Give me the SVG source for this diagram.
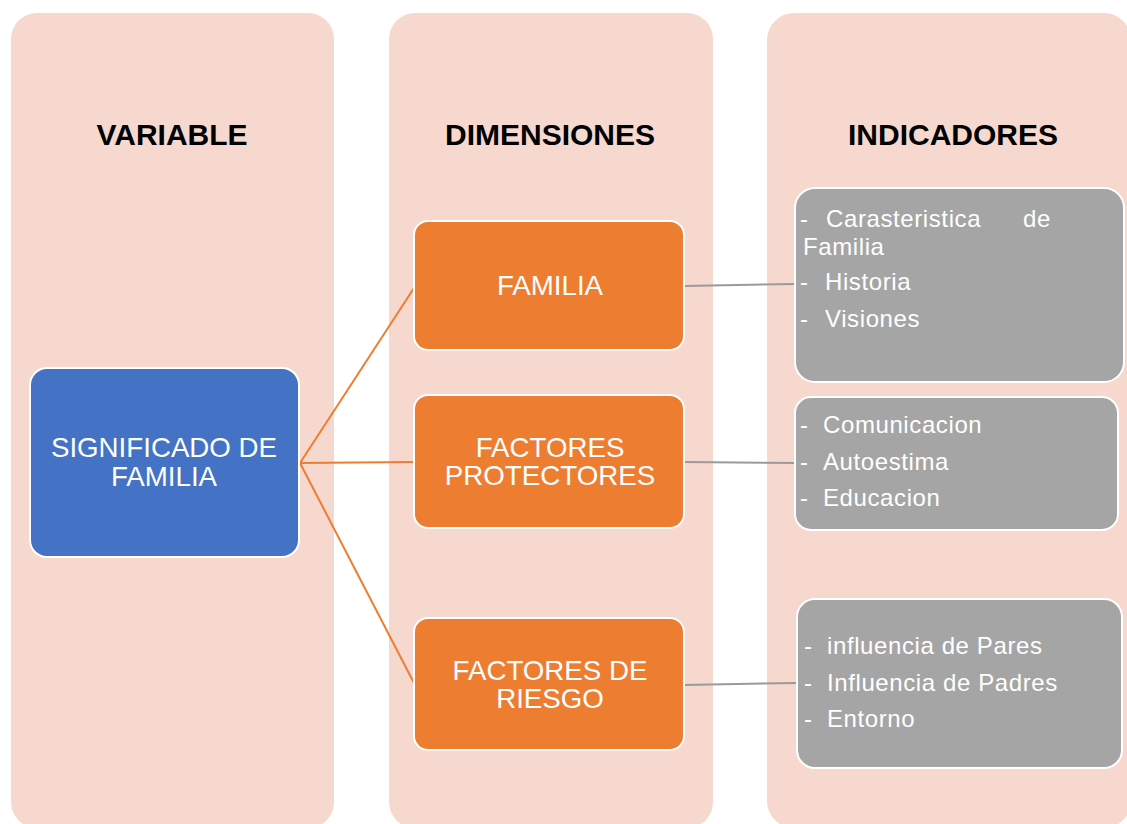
<svg xmlns="http://www.w3.org/2000/svg" width="1127" height="824" viewBox="0 0 1127 824">
<style>
.col{fill:#f7d8ce}
.head{font-family:"Liberation Sans",Arial,sans-serif;font-weight:bold;font-size:30px;fill:#000;text-anchor:middle}
.blue{fill:#4472c4;stroke:#fff;stroke-width:2}
.orange{fill:#ed7d31;stroke:#fff;stroke-width:2}
.gray{fill:#a5a5a5;stroke:#fff;stroke-width:2}
.lbl{font-family:"Liberation Sans",Arial,sans-serif;font-size:27.7px;fill:#fff;text-anchor:middle}
.ind{font-family:"Liberation Sans",Arial,sans-serif;font-size:24px;fill:#fff;letter-spacing:0.6px}
.c-or{stroke:#ed7d31;stroke-width:2;fill:none}
.c-gr{stroke:#9a9a9a;stroke-width:2;fill:none}
</style>
<rect width="1127" height="824" fill="#fff"/>
<g id="columns">
<rect class="col" x="11" y="13" width="323" height="815" rx="26"/>
<rect class="col" x="389" y="13" width="324" height="815" rx="26"/>
<rect class="col" x="767" y="13" width="364" height="815" rx="27"/>
<text class="head" x="172" y="145">VARIABLE</text>
<text class="head" x="550" y="145">DIMENSIONES</text>
<text class="head" x="953" y="145">INDICADORES</text>
</g>
<g id="connectors">
<line class="c-or" x1="300" y1="463" x2="414" y2="288"/>
<line class="c-or" x1="300" y1="463" x2="414" y2="462"/>
<line class="c-or" x1="300" y1="463" x2="414" y2="683"/>
<line class="c-gr" x1="684" y1="286" x2="795" y2="284"/>
<line class="c-gr" x1="684" y1="462" x2="795" y2="463"/>
<line class="c-gr" x1="684" y1="685" x2="797" y2="683"/>
</g>
<g id="significado">
<rect class="blue" x="30" y="368" width="269" height="189" rx="17"/>
<text class="lbl" x="164" y="457">SIGNIFICADO DE</text>
<text class="lbl" x="164" y="486">FAMILIA</text>
</g>
<g id="familia">
<rect class="orange" x="414" y="221" width="270" height="129" rx="14"/>
<text class="lbl" x="550" y="295">FAMILIA</text>
</g>
<g id="protectores">
<rect class="orange" x="414" y="395" width="270" height="133" rx="14"/>
<text class="lbl" x="550" y="457">FACTORES</text>
<text class="lbl" x="550" y="485">PROTECTORES</text>
</g>
<g id="riesgo">
<rect class="orange" x="414" y="618" width="270" height="132" rx="14"/>
<text class="lbl" x="550" y="680">FACTORES DE</text>
<text class="lbl" x="550" y="708">RIESGO</text>
</g>
<g id="ind-familia">
<rect class="gray" x="795" y="188" width="329" height="194" rx="20"/>
<text class="ind" x="800" y="227">-</text>
<text class="ind" x="826" y="227">Carasteristica</text>
<text class="ind" x="1023" y="227">de</text>
<text class="ind" x="803" y="255">Familia</text>
<text class="ind" x="800" y="290">-</text>
<text class="ind" x="825" y="290">Historia</text>
<text class="ind" x="800" y="327">-</text>
<text class="ind" x="825" y="327">Visiones</text>
</g>
<g id="ind-protectores">
<rect class="gray" x="795" y="397" width="323" height="133" rx="16"/>
<text class="ind" x="800" y="433">-</text>
<text class="ind" x="823" y="433">Comunicacion</text>
<text class="ind" x="800" y="470">-</text>
<text class="ind" x="823" y="470">Autoestima</text>
<text class="ind" x="800" y="506">-</text>
<text class="ind" x="823" y="506">Educacion</text>
</g>
<g id="ind-riesgo">
<rect class="gray" x="797" y="599" width="325" height="169" rx="18"/>
<text class="ind" x="804" y="654">-</text>
<text class="ind" x="827" y="654">influencia de Pares</text>
<text class="ind" x="804" y="691">-</text>
<text class="ind" x="827" y="691">Influencia de Padres</text>
<text class="ind" x="804" y="727">-</text>
<text class="ind" x="827" y="727">Entorno</text>
</g>
</svg>
